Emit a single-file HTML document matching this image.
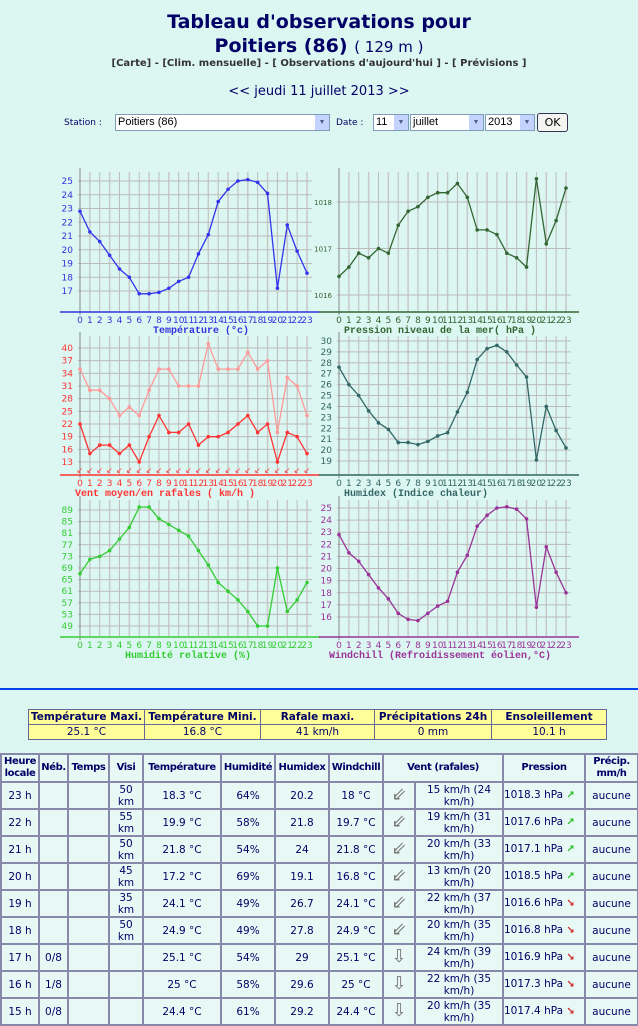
<!DOCTYPE html>
<html><head><meta charset="utf-8">
<style>
body{margin:0;width:638px;height:1024px;overflow:hidden;background:#dcf6f1;font-family:"DejaVu Sans","Liberation Sans",sans-serif;color:#000066;position:relative}
.a{position:absolute}
.t1{left:0;width:638px;text-align:center;font-weight:bold;font-size:19px;color:#000066}
table{border-collapse:collapse;table-layout:fixed}
#sum{left:28px;top:709px;width:578px}
#sum td{border:1px solid #666699;font-size:10.5px;text-align:center;background:#ffff99;height:14px;padding:0;white-space:nowrap;overflow:hidden}
#obs{left:0;top:753px;width:637px}
#obs td{border:2px solid #8888aa;background:#e8f8f5;font-size:10.5px;text-align:center;padding:0;height:25px;color:#000066;line-height:12px;overflow:hidden}
#obs tr.h td{font-weight:bold;height:26px;font-size:10px;letter-spacing:-0.4px}
.sel{position:absolute;top:114px;height:17px;background:#fff;border:1px solid #7f9db9;font-size:11px;color:#000;font-family:"Liberation Sans",sans-serif;box-sizing:border-box;padding-left:2px;line-height:15px}
.sel b{position:absolute;right:0;top:0;width:14px;height:15px;background:#c3d3fd;font-size:7px;text-align:center;color:#4d6185;line-height:15px}
</style></head><body>
<div class="a t1" style="top:11px">Tableau d'observations pour</div>
<div class="a t1" style="top:35px">Poitiers (86) <span style="font-weight:normal;font-size:15px">( 129 m )</span></div>
<div class="a" style="left:0;width:638px;text-align:center;top:58px;font-size:10px;font-weight:bold;color:#333">[Carte] - [Clim. mensuelle] - [ Observations d'aujourd'hui ] - [ Prévisions ]</div>
<div class="a" style="left:0;width:638px;text-align:center;top:84px;font-size:13px">&lt;&lt; jeudi 11 juillet 2013 &gt;&gt;</div>
<div class="a" style="left:64px;top:118px;font-size:9px">Station :</div>
<div class="sel" style="left:115px;width:215px">Poitiers (86)<b>▼</b></div>
<div class="a" style="left:336px;top:118px;font-size:9px">Date :</div>
<div class="sel" style="left:373px;width:36px">11<b>▼</b></div>
<div class="sel" style="left:410px;width:74px">juillet<b>▼</b></div>
<div class="sel" style="left:485px;width:50px">2013<b>▼</b></div>
<div class="a" style="left:537px;top:113px;width:31px;height:19px;border:1px solid #335;border-radius:3px;background:#f4f4f0;font-size:11px;text-align:center;line-height:18px;color:#000;box-sizing:border-box">OK</div>

<svg class="a" style="left:0;top:0" width="638" height="690" id="ch"></svg>
<div class="a" style="left:0;top:688px;width:638px;height:2px;background:#0044ee"></div>

<table class="a" id="sum">
<colgroup><col style="width:116px"><col style="width:116px"><col style="width:114px"><col style="width:117px"><col style="width:115px"></colgroup>
<tr style="font-weight:bold"><td>Température Maxi.</td><td>Température Mini.</td><td>Rafale maxi.</td><td>Précipitations 24h</td><td>Ensoleillement</td></tr>
<tr><td>25.1 °C</td><td>16.8 °C</td><td>41 km/h</td><td>0 mm</td><td>10.1 h</td></tr>
</table>

<table class="a" id="obs">
<colgroup><col style="width:38px"><col style="width:29px"><col style="width:41px"><col style="width:34px"><col style="width:78px"><col style="width:54px"><col style="width:54px"><col style="width:54px"><col style="width:32px"><col style="width:88px"><col style="width:82px"><col style="width:53px"></colgroup>
<tr class="h"><td>Heure<br>locale</td><td>Néb.</td><td>Temps</td><td>Visi</td><td>Température</td><td>Humidité</td><td>Humidex</td><td>Windchill</td><td colspan="2">Vent (rafales)</td><td>Pression</td><td>Précip.<br>mm/h</td></tr>
<tbody id="rows"></tbody>
</table>

<script>
var rows=[["23 h","","","50<br>km","18.3 °C","64%","20.2","18 °C","⇙","15 km/h (24<br>km/h)","1018.3 hPa","u"],
["22 h","","","55<br>km","19.9 °C","58%","21.8","19.7 °C","⇙","19 km/h (31<br>km/h)","1017.6 hPa","u"],
["21 h","","","50<br>km","21.8 °C","54%","24","21.8 °C","⇙","20 km/h (33<br>km/h)","1017.1 hPa","u"],
["20 h","","","45<br>km","17.2 °C","69%","19.1","16.8 °C","⇙","13 km/h (20<br>km/h)","1018.5 hPa","u"],
["19 h","","","35<br>km","24.1 °C","49%","26.7","24.1 °C","⇙","22 km/h (37<br>km/h)","1016.6 hPa","d"],
["18 h","","","50<br>km","24.9 °C","49%","27.8","24.9 °C","⇙","20 km/h (35<br>km/h)","1016.8 hPa","d"],
["17 h","0/8","","","25.1 °C","54%","29","25.1 °C","⇩","24 km/h (39<br>km/h)","1016.9 hPa","d"],
["16 h","1/8","","","25 °C","58%","29.6","25 °C","⇩","22 km/h (35<br>km/h)","1017.3 hPa","d"],
["15 h","0/8","","","24.4 °C","61%","29.2","24.4 °C","⇩","20 km/h (35<br>km/h)","1017.4 hPa","d"]];
var h="";
rows.forEach(function(r){h+="<tr>";for(var i=0;i<12;i++){var v=r[i];
if(i==8)v='<span style="font-size:18px;color:#777">'+v+'</span>';
if(i==10)v=v+(r[11]=="u"?' <span style="color:#22bb22;font-size:10px;font-weight:bold">↗</span>':' <span style="color:#cc2222;font-size:10px;font-weight:bold">↘</span>');
if(i==11)v="aucune";
h+="<td"+(i==10?' style="text-align:left;white-space:nowrap"':'')+">"+v+"</td>";}h+="</tr>";});
document.getElementById("rows").innerHTML=h;

var S="";
function chart(c){
 var x0=c.x0,dx=9.87,ay=c.ay,ty=c.ty;
 function py(v){return c.p1+(v-c.v1)*(c.p2-c.p1)/(c.v2-c.v1);}
 for(var i=0;i<24;i++){var x=x0+i*dx;S+='<line x1="'+x+'" y1="'+ty+'" x2="'+x+'" y2="'+ay+'" stroke="'+(i%2?'#c8c8c8':'#bdbdbd')+'" stroke-width="'+(i%2?1.5:1)+'"/>';
  S+='<text x="'+x+'" y="'+(ay+11)+'" font-size="9" text-anchor="middle" fill="'+c.col+'">'+i+'</text>';}
 c.labels.forEach(function(v){var y=py(v);S+='<line x1="'+(x0-2)+'" y1="'+y+'" x2="'+(x0+232)+'" y2="'+y+'" stroke="#bbbbbb"/>';
  S+='<text x="'+(x0-7)+'" y="'+(y+3)+'" font-size="'+(c.lfs||9)+'" text-anchor="end" fill="'+c.col+'">'+v+'</text>';});
 S+='<line x1="'+x0+'" y1="'+(ty-4)+'" x2="'+x0+'" y2="'+(ay+3)+'" stroke="#888"/>';
 S+='<line x1="'+(x0-20)+'" y1="'+ay+'" x2="'+(x0+240)+'" y2="'+ay+'" stroke="'+c.col+'" stroke-width="1.5"/>';
 S+='<text x="'+(x0+c.tx)+'" y="'+(ay+21)+'" font-size="10" font-weight="bold" font-family="Liberation Mono,monospace" fill="'+c.col+'">'+c.title+'</text>';
 c.series.forEach(function(s){var p=s.d.map(function(v,i){return (x0+i*dx).toFixed(1)+","+py(v).toFixed(1)}).join(" ");
  S+='<polyline points="'+p+'" fill="none" stroke="'+s.c+'" stroke-width="1.3"/>';
  s.d.forEach(function(v,i){S+='<circle cx="'+(x0+i*dx)+'" cy="'+py(v)+'" r="1.8" fill="'+s.c+'"/>';});});
 if(c.arrows)for(var i=0;i<24;i++)S+='<text x="'+(x0+i*dx)+'" y="'+(ay-2)+'" font-size="8" text-anchor="middle" fill="'+c.col+'">↙</text>';
}
chart({x0:80,ay:312,ty:172,v1:25,p1:181,v2:17,p2:291,labels:[17,18,19,20,21,22,23,24,25],col:"#3333dd",title:"Température (°c)",tx:73,
 series:[{c:"#3333ee",d:[22.8,21.3,20.6,19.6,18.6,18.0,16.8,16.8,16.9,17.2,17.7,18.0,19.7,21.1,23.5,24.4,25.0,25.1,24.9,24.1,17.2,21.8,19.9,18.3]}]});
chart({x0:339,ay:312,ty:172,v1:1018,p1:202,v2:1016,p2:295,labels:[1016,1017,1018],lfs:7,col:"#336633",title:"Pression niveau de la mer( hPa )",tx:5,
 series:[{c:"#336633",d:[1016.4,1016.6,1016.9,1016.8,1017.0,1016.9,1017.5,1017.8,1017.9,1018.1,1018.2,1018.2,1018.4,1018.1,1017.4,1017.4,1017.3,1016.9,1016.8,1016.6,1018.5,1017.1,1017.6,1018.3]}]});
chart({x0:80,ay:475,ty:336,v1:40,p1:348,v2:13,p2:462,labels:[13,16,19,22,25,28,31,34,37,40],col:"#ff3333",title:"Vent moyen/en rafales ( km/h )",tx:-5,arrows:1,
 series:[{c:"#ff9999",d:[35,30,30,28,24,26,24,30,35,35,31,31,31,41,35,35,35,39,35,37,20,33,31,24]},{c:"#ff3333",d:[22,15,17,17,15,17,13,19,24,20,20,22,17,19,19,20,22,24,20,22,13,20,19,15]}]});
chart({x0:339,ay:475,ty:336,v1:30,p1:341,v2:19,p2:461,labels:[19,20,21,22,23,24,25,26,27,28,29,30],col:"#336666",title:"Humidex (Indice chaleur)",tx:5,
 series:[{c:"#336666",d:[27.6,26,25,23.6,22.5,21.9,20.7,20.7,20.5,20.8,21.3,21.6,23.5,25.3,28.3,29.3,29.6,29,27.8,26.7,19.1,24,21.8,20.2]}]});
chart({x0:80,ay:637,ty:500,v1:89,p1:510,v2:49,p2:626,labels:[49,53,57,61,65,69,73,77,81,85,89],col:"#33cc33",title:"Humidité relative (%)",tx:45,
 series:[{c:"#33cc33",d:[67,72,73,75,79,83,90,90,86,84,82,80,75,70,64,61,58,54,49,49,69,54,58,64]}]});
chart({x0:339,ay:637,ty:500,v1:25,p1:508,v2:16,p2:617,labels:[16,17,18,19,20,21,22,23,24,25],col:"#993399",title:"Windchill (Refroidissement éolien,°C)",tx:-10,
 series:[{c:"#993399",d:[22.8,21.3,20.6,19.5,18.4,17.5,16.3,15.8,15.7,16.3,16.9,17.3,19.7,21.1,23.5,24.4,25,25.1,24.9,24.1,16.8,21.8,19.7,18]}]});
document.getElementById("ch").innerHTML=S;
</script>
</body></html>
